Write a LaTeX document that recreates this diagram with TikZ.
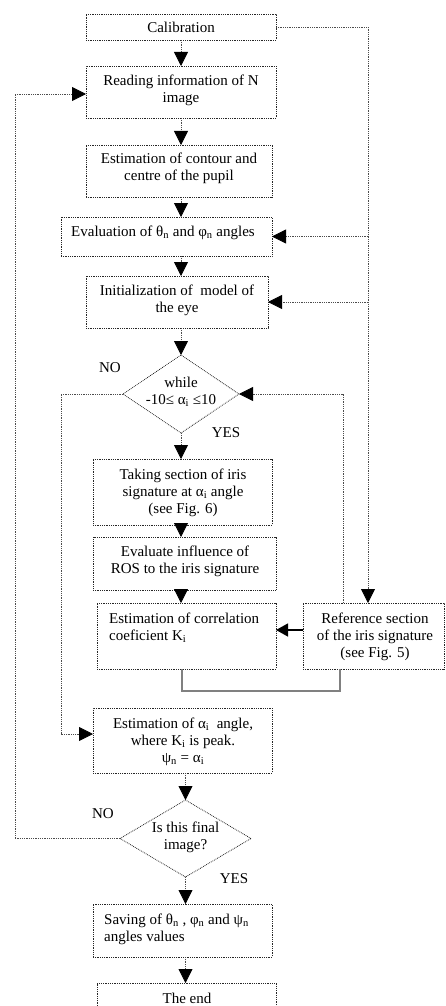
\documentclass[tikz,border=0pt]{standalone}
\usepackage{fontspec}
\setmainfont{Liberation Serif}
\usetikzlibrary{arrows.meta,shapes.geometric}
\begin{document}
\begin{tikzpicture}[x=1pt,y=-1pt,
  box/.style={draw=black!85, densely dotted, line width=0.8pt, inner sep=0pt, outer sep=0pt},
  dia/.style={diamond, draw=black!85, densely dotted, line width=0.8pt, inner sep=0pt, outer sep=0pt, aspect=1},
  txt/.style={font=\fontsize{15}{17}\selectfont, inner sep=0pt, align=center},
  ltxt/.style={font=\fontsize{15}{17}\selectfont, inner sep=0pt, align=left, anchor=west},
  flow/.style={draw=black!70, densely dotted, line width=0.8pt, -{Triangle[width=14pt,length=14pt,color=black]}},
  plain/.style={draw=black!70, densely dotted, line width=0.8pt},
  solidarrow/.style={draw=black, line width=1.3pt, -{Triangle[width=13pt,length=12pt,color=black]}},
  grayline/.style={draw=black!50, line width=1.2pt}
]
\path[use as bounding box, clip] (0,0) rectangle (445,1006);
\fill[white] (0,0) rectangle (445,1006);

% boxes
\node[box, minimum width=190pt, minimum height=26pt] (cal) at (181,27) {};
\node[box, minimum width=190pt, minimum height=52pt] (read) at (181,92) {};
\node[box, minimum width=186pt, minimum height=52pt] (cont) at (179,171) {};
\node[box, minimum width=211pt, minimum height=39pt] (eval) at (166.5,236.5) {};
\node[box, minimum width=182pt, minimum height=52pt] (init) at (177,302) {};
\node[dia, minimum width=116pt, minimum height=78pt] (dia1) at (181,394) {};
\node[box, minimum width=179pt, minimum height=66pt] (take) at (182.5,492) {};
\node[box, minimum width=183pt, minimum height=53pt] (infl) at (184.5,563.5) {};
\node[box, minimum width=179pt, minimum height=66pt] (corr) at (186.5,636) {};
\node[box, minimum width=141pt, minimum height=66pt] (ref) at (373.5,636) {};
\node[box, minimum width=179pt, minimum height=65pt] (alpha) at (182.5,740.5) {};
\node[dia, minimum width=131pt, minimum height=77pt] (dia2) at (185.5,838.5) {};
\node[box, minimum width=179pt, minimum height=53pt] (save) at (182.5,930.5) {};
\node[box, minimum width=179pt, minimum height=50pt] (end) at (186.5,1008) {};

% texts
\node[txt] (tcal) at (181,27) {Calibration};
\node[txt] (tread) at (181,90.5) {Reading information of N\\image};
\node[txt] (tcont) at (179,168.5) {Estimation of contour and\\centre of the pupil};
\node[txt] (teval) at (163,232.5) {Evaluation of θ\textsubscript{n} and φ\textsubscript{n} angles};
\node[txt] (tinit) at (177,300.5) {Initialization of~ model of\\the eye};
\node[txt] (td1) at (181,391.5) {while\\-10≤ α\textsubscript{i} ≤10};
\node[txt] (ttake) at (183,492.5) {Taking section of iris\\signature at α\textsubscript{i} angle\\(see Fig. 6)};
\node[txt] (tinfl) at (185,561.5) {Evaluate influence of\\ROS to the iris signature};
\node[ltxt] (tcorr) at (109,627.5) {Estimation of correlation\\coeficient K\textsubscript{i}};
\node[txt] (tref) at (375,636.5) {Reference section\\of the iris signature\\(see Fig. 5)};
\node[txt] (talpha) at (183,742) {Estimation of α\textsubscript{i}~ angle,\\where K\textsubscript{i} is peak.\\ψ\textsubscript{n} = α\textsubscript{i}};
\node[txt] (td2) at (185.5,837) {Is this final\\image?};
\node[ltxt] (tsave) at (104,929.5) {Saving of θ\textsubscript{n} , φ\textsubscript{n} and ψ\textsubscript{n}\\angles values};
\node[txt] (tend) at (187,998) {The end};

\node[txt] (no1) at (110,368) {NO};
\node[txt] (yes1) at (226,433) {YES};
\node[txt] (no2) at (103,814) {NO};
\node[txt] (yes2) at (234,879) {YES};

% helper coordinates
\coordinate (rline) at (368,0);
\coordinate (rl2) at (343,0);
\coordinate (ll1) at (61,0);
\coordinate (ll2) at (15,0);
\coordinate (ay) at (0,734);
\coordinate (ry) at (0,94);
\coordinate (gy) at (0,691);
\coordinate (gx1) at (182,0);
\coordinate (gx2) at (340,0);
\coordinate (sy) at (0,630);

% main chain
\draw[flow] (cal) -- (read);
\draw[flow] (read.south) -- (read.south |- cont.north);
\draw[flow] (read.south |- cont.south) -- (read.south |- eval.north);
\draw[flow] (read.south |- eval.south) -- (read.south |- init.north);
\draw[flow] (read.south |- init.south) -- (dia1.north);
\draw[flow] (dia1.south) -- (dia1.south |- take.north);
\draw[flow] (dia1.south |- take.south) -- (dia1.south |- infl.north);
\draw[flow] (dia1.south |- infl.south) -- (dia1.south |- corr.north);

% right calibration line
\draw[flow] (cal.east) -- (cal.east -| rline) -- (rline |- ref.north);
\draw[flow] (rline |- eval.east) -- (eval.east);
\draw[flow] (rline |- init.east) -- (init.east);

% loop back to diamond
\draw[flow] (rl2 |- ref.north) -- (rl2 |- dia1.east) -- (dia1.east);
% NO branch of while
\draw[flow] (dia1.west) -- (dia1.west -| ll1) -- (ll1 |- ay) -- (ay -| alpha.west);
% reference to correlation
\draw[solidarrow] (sy -| ref.west) -- (sy -| corr.east);
% gray connector
\draw[grayline] (gx1 |- corr.south) -- (gx1 |- gy) -- (gx2 |- gy) -- (gx2 |- ref.south);

% lower chain
\draw[flow] (dia2.north |- alpha.south) -- (dia2.north);
\draw[flow] (dia2.south) -- (dia2.south |- save.north);
\draw[flow] (dia2.south |- save.south) -- (dia2.south |- end.north);
% outer loop
\draw[flow] (dia2.west) -- (dia2.west -| ll2) -- (ll2 |- ry) -- (ry -| read.west);
\end{tikzpicture}
\end{document}
